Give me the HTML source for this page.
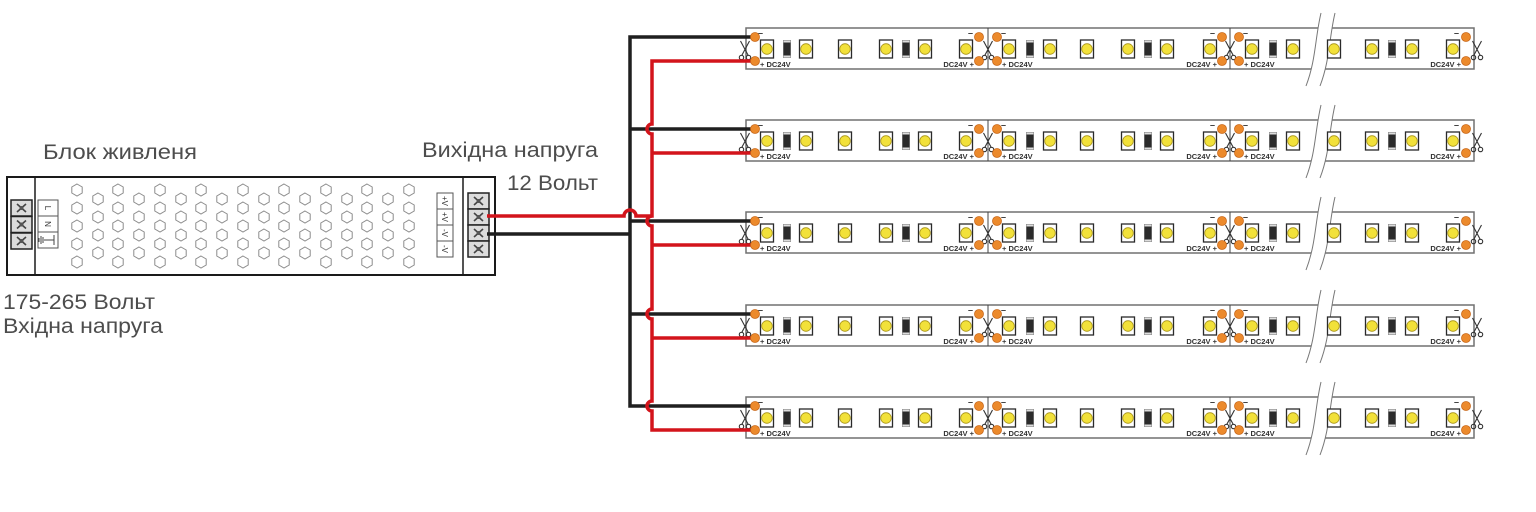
<!DOCTYPE html>
<html><head><meta charset="utf-8"><style>
html,body{margin:0;padding:0;background:#fff;}
svg{display:block}
.lbl{font-family:"Liberation Sans",sans-serif;font-size:21px;fill:#4d4d4d}
.sm{font-family:"Liberation Sans",sans-serif;font-size:7.5px;font-weight:bold;fill:#333}
.mn{font-family:"Liberation Sans",sans-serif;font-size:9px;font-weight:bold;fill:#333}
.tl{font-family:"Liberation Sans",sans-serif;font-size:8px;fill:#333}
</style></head><body>
<svg width="1536" height="512" viewBox="0 0 1536 512" xmlns="http://www.w3.org/2000/svg">
<defs>
<path id="hex" d="M0,-6 L5.2,-3 L5.2,3 L0,6 L-5.2,3 L-5.2,-3 Z" fill="none" stroke="#8c8c8c" stroke-width="1"/>
<g id="tc"><use href="#hex" y="190"/><use href="#hex" y="208"/><use href="#hex" y="226"/><use href="#hex" y="244"/><use href="#hex" y="262"/></g>
<g id="sc4"><use href="#hex" y="199"/><use href="#hex" y="217"/><use href="#hex" y="235"/><use href="#hex" y="253"/></g>
<g id="term">
 <rect x="0" y="0" width="21" height="16" fill="#dcdcdc" stroke="#222" stroke-width="1.5"/>
 <path d="M6,4 L15,12 M15,4 L6,12" stroke="#444" stroke-width="1.6"/>
 <circle cx="10.5" cy="8" r="2" fill="#555"/>
</g>
<g id="led">
 <rect x="-6.5" y="-9" width="13" height="18" fill="#fff" stroke="#2a2a2a" stroke-width="1.3"/>
 <circle cx="0" cy="0" r="5.3" fill="#f2e13a" stroke="#a89418" stroke-width="0.8"/>
</g>
<g id="res">
 <rect x="-3.5" y="-8.5" width="7" height="17" fill="#2b2b2b" stroke="#555" stroke-width="0.8"/>
 <rect x="-3.5" y="-8.5" width="7" height="2" fill="#ddd"/>
 <rect x="-3.5" y="6.5" width="7" height="2" fill="#ddd"/>
</g>
<circle id="pad" r="4.5" fill="#ec8a2c" stroke="#c9681a" stroke-width="0.8"/>
<g id="scis" fill="none" stroke="#333" stroke-width="1.1">
 <path d="M-4.5,-9 L3,5 M4.5,-9 L-3,5"/>
 <circle cx="-3.5" cy="7.5" r="2.2"/>
 <circle cx="3.5" cy="7.5" r="2.2"/>
</g>
<g id="strip">
 <rect x="746" y="0" width="728" height="41" fill="#fff" stroke="#707070" stroke-width="1.5"/>
 <line x1="988" y1="0" x2="988" y2="41" stroke="#444" stroke-width="1"/>
 <line x1="1230" y1="0" x2="1230" y2="41" stroke="#444" stroke-width="1"/>
 <path d="M1321,-15 C1315,10 1316,32 1306,58 L1320,58 C1330,32 1329,10 1335,-15 Z" fill="#fff"/>
 <path d="M1321,-15 C1315,10 1316,32 1306,58 M1335,-15 C1329,10 1330,32 1320,58" fill="none" stroke="#777" stroke-width="1"/>
 <use href="#led" x="767" y="21"/><use href="#res" x="787" y="21"/><use href="#led" x="806" y="21"/>
 <use href="#led" x="845" y="21"/><use href="#led" x="886" y="21"/><use href="#res" x="906" y="21"/>
 <use href="#led" x="925" y="21"/><use href="#led" x="966" y="21"/>
 <use href="#led" x="1009" y="21"/><use href="#res" x="1030" y="21"/><use href="#led" x="1050" y="21"/>
 <use href="#led" x="1087" y="21"/><use href="#led" x="1128" y="21"/><use href="#res" x="1148" y="21"/>
 <use href="#led" x="1167" y="21"/><use href="#led" x="1210" y="21"/>
 <use href="#led" x="1252" y="21"/><use href="#res" x="1273" y="21"/><use href="#led" x="1293" y="21"/>
 <use href="#led" x="1334" y="21"/><use href="#led" x="1372" y="21"/><use href="#res" x="1392" y="21"/>
 <use href="#led" x="1412" y="21"/><use href="#led" x="1453" y="21"/>
 <use href="#scis" x="745" y="22"/><use href="#scis" x="988" y="22"/><use href="#scis" x="1230" y="22"/><use href="#scis" x="1477" y="22"/>
</g>
<g id="pads">
 <use href="#pad" x="755" y="9"/><use href="#pad" x="755" y="33"/>
 <use href="#pad" x="979" y="9"/><use href="#pad" x="979" y="33"/>
 <use href="#pad" x="997" y="9"/><use href="#pad" x="997" y="33"/>
 <use href="#pad" x="1222" y="9"/><use href="#pad" x="1222" y="33"/>
 <use href="#pad" x="1239" y="9"/><use href="#pad" x="1239" y="33"/>
 <use href="#pad" x="1466" y="9"/><use href="#pad" x="1466" y="33"/>
</g>
</defs>

<!-- Power supply -->
<rect x="7" y="177" width="488" height="98" fill="#fff" stroke="#1a1a1a" stroke-width="2"/>
<line x1="35" y1="177" x2="35" y2="275" stroke="#1a1a1a" stroke-width="1.5"/>
<line x1="463" y1="177" x2="463" y2="275" stroke="#1a1a1a" stroke-width="1.5"/>
<use href="#term" x="11" y="200"/><use href="#term" x="11" y="216.5"/><use href="#term" x="11" y="233"/>
<rect x="38" y="200" width="20" height="48" fill="#fff" stroke="#555" stroke-width="1"/>
<line x1="38" y1="216" x2="58" y2="216" stroke="#555"/><line x1="38" y1="232" x2="58" y2="232" stroke="#555"/>
<text class="tl" transform="translate(45,208) rotate(90)" text-anchor="middle">L</text>
<text class="tl" transform="translate(45,224) rotate(90)" text-anchor="middle">N</text>
<path d="M44,240 H54 M54,235 V245 M41,236 V244 M43,237 V243 M39,238 V242" stroke="#444" stroke-width="1" fill="none"/>

<use href="#tc" x="77"/><use href="#tc" x="118"/><use href="#tc" x="160"/><use href="#tc" x="201"/><use href="#tc" x="243"/>
<use href="#tc" x="284"/><use href="#tc" x="326"/><use href="#tc" x="367"/><use href="#tc" x="409"/>
<use href="#sc4" x="98"/><use href="#sc4" x="139"/><use href="#sc4" x="181"/><use href="#sc4" x="222"/>
<use href="#sc4" x="264"/><use href="#sc4" x="305"/><use href="#sc4" x="347"/><use href="#sc4" x="388"/>

<rect x="437" y="193" width="16" height="64" fill="#fff" stroke="#555" stroke-width="1"/>
<line x1="437" y1="209" x2="453" y2="209" stroke="#555"/><line x1="437" y1="225" x2="453" y2="225" stroke="#555"/><line x1="437" y1="241" x2="453" y2="241" stroke="#555"/>
<text class="tl" transform="translate(442,201) rotate(90)" text-anchor="middle">+V</text>
<text class="tl" transform="translate(442,217) rotate(90)" text-anchor="middle">+V</text>
<text class="tl" transform="translate(442,233) rotate(90)" text-anchor="middle">-V</text>
<text class="tl" transform="translate(442,249) rotate(90)" text-anchor="middle">-V</text>
<use href="#term" x="468" y="193"/><use href="#term" x="468" y="209"/><use href="#term" x="468" y="225"/><use href="#term" x="468" y="241"/>

<!-- Labels -->
<text class="lbl" x="43" y="159" textLength="154" lengthAdjust="spacingAndGlyphs">Блок живленя</text>
<text class="lbl" x="3" y="309" textLength="152" lengthAdjust="spacingAndGlyphs">175-265 Вольт</text>
<text class="lbl" x="3" y="333" textLength="160" lengthAdjust="spacingAndGlyphs">Вхідна напруга</text>
<text class="lbl" x="422" y="157" textLength="176" lengthAdjust="spacingAndGlyphs">Вихідна напруга</text>
<text class="lbl" x="507" y="190" textLength="91" lengthAdjust="spacingAndGlyphs">12 Вольт</text>

<!-- Strips -->
<use href="#strip" y="28"/>
<use href="#strip" y="120"/>
<use href="#strip" y="212"/>
<use href="#strip" y="305"/>
<use href="#strip" y="397"/>

<!-- Wires -->
<g fill="none" stroke-width="3.5" stroke-linejoin="miter">
 <path d="M487,234 H630" stroke="#1f1f1f"/>
 <path d="M755,37 H630 V406 H755 M630,129 H755 M630,221 H755 M630,314 H755" stroke="#1f1f1f"/>
 <path d="M487,216 H624 A6,6 0 0 1 636,216 H652" stroke="#d3141b"/>
 <path d="M755,61 H652 V124 A5,5 0 0 0 652,134 V216 A5,5 0 0 0 652,226 V309 A5,5 0 0 0 652,319 V401 A5,5 0 0 0 652,411 V430 H755 M652,153 H755 M652,245 H755 M652,338 H755" stroke="#d3141b"/>
</g>

<!-- Pads and strip texts -->
<g transform="translate(0,28)">
 <use href="#pads"/>
 <text class="mn" x="758" y="8">–</text><text class="sm" x="760" y="39">+ DC24V</text>
 <text class="mn" x="968" y="8">–</text><text class="sm" x="974" y="39" text-anchor="end">DC24V +</text>
 <text class="mn" x="1001" y="8">–</text><text class="sm" x="1002" y="39">+ DC24V</text>
 <text class="mn" x="1210" y="8">–</text><text class="sm" x="1217" y="39" text-anchor="end">DC24V +</text>
 <text class="mn" x="1243" y="8">–</text><text class="sm" x="1244" y="39">+ DC24V</text>
 <text class="mn" x="1454" y="8">–</text><text class="sm" x="1461" y="39" text-anchor="end">DC24V +</text>
</g>
<g transform="translate(0,120)">
 <use href="#pads"/>
 <text class="mn" x="758" y="8">–</text><text class="sm" x="760" y="39">+ DC24V</text>
 <text class="mn" x="968" y="8">–</text><text class="sm" x="974" y="39" text-anchor="end">DC24V +</text>
 <text class="mn" x="1001" y="8">–</text><text class="sm" x="1002" y="39">+ DC24V</text>
 <text class="mn" x="1210" y="8">–</text><text class="sm" x="1217" y="39" text-anchor="end">DC24V +</text>
 <text class="mn" x="1243" y="8">–</text><text class="sm" x="1244" y="39">+ DC24V</text>
 <text class="mn" x="1454" y="8">–</text><text class="sm" x="1461" y="39" text-anchor="end">DC24V +</text>
</g>
<g transform="translate(0,212)">
 <use href="#pads"/>
 <text class="mn" x="758" y="8">–</text><text class="sm" x="760" y="39">+ DC24V</text>
 <text class="mn" x="968" y="8">–</text><text class="sm" x="974" y="39" text-anchor="end">DC24V +</text>
 <text class="mn" x="1001" y="8">–</text><text class="sm" x="1002" y="39">+ DC24V</text>
 <text class="mn" x="1210" y="8">–</text><text class="sm" x="1217" y="39" text-anchor="end">DC24V +</text>
 <text class="mn" x="1243" y="8">–</text><text class="sm" x="1244" y="39">+ DC24V</text>
 <text class="mn" x="1454" y="8">–</text><text class="sm" x="1461" y="39" text-anchor="end">DC24V +</text>
</g>
<g transform="translate(0,305)">
 <use href="#pads"/>
 <text class="mn" x="758" y="8">–</text><text class="sm" x="760" y="39">+ DC24V</text>
 <text class="mn" x="968" y="8">–</text><text class="sm" x="974" y="39" text-anchor="end">DC24V +</text>
 <text class="mn" x="1001" y="8">–</text><text class="sm" x="1002" y="39">+ DC24V</text>
 <text class="mn" x="1210" y="8">–</text><text class="sm" x="1217" y="39" text-anchor="end">DC24V +</text>
 <text class="mn" x="1243" y="8">–</text><text class="sm" x="1244" y="39">+ DC24V</text>
 <text class="mn" x="1454" y="8">–</text><text class="sm" x="1461" y="39" text-anchor="end">DC24V +</text>
</g>
<g transform="translate(0,397)">
 <use href="#pads"/>
 <text class="mn" x="758" y="8">–</text><text class="sm" x="760" y="39">+ DC24V</text>
 <text class="mn" x="968" y="8">–</text><text class="sm" x="974" y="39" text-anchor="end">DC24V +</text>
 <text class="mn" x="1001" y="8">–</text><text class="sm" x="1002" y="39">+ DC24V</text>
 <text class="mn" x="1210" y="8">–</text><text class="sm" x="1217" y="39" text-anchor="end">DC24V +</text>
 <text class="mn" x="1243" y="8">–</text><text class="sm" x="1244" y="39">+ DC24V</text>
 <text class="mn" x="1454" y="8">–</text><text class="sm" x="1461" y="39" text-anchor="end">DC24V +</text>
</g>
</svg>
</body></html>
